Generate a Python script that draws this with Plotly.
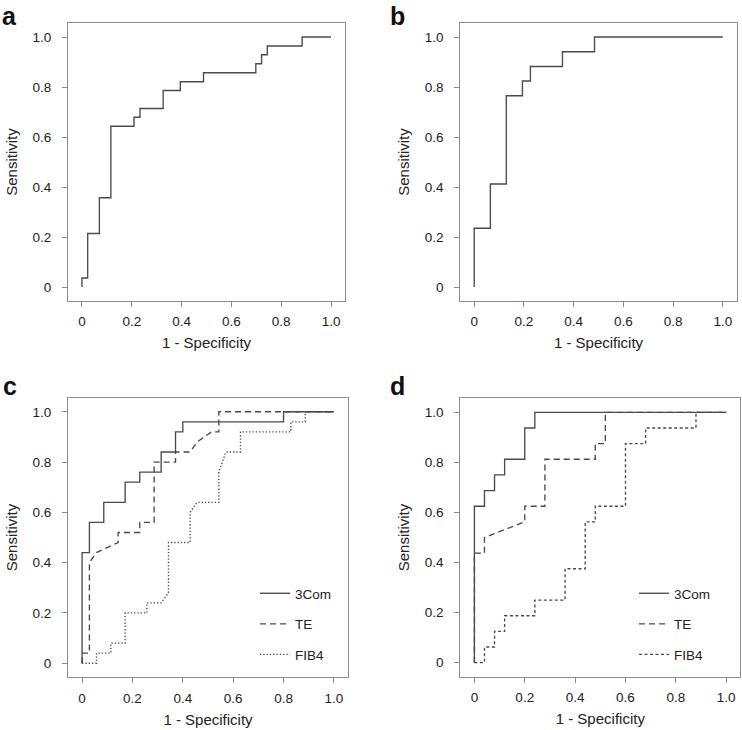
import plotly.graph_objects as go

W, H = 742, 730

# ---------------- data ----------------
# panel a
a_fpr = [0, 0, 0.023, 0.070, 0.116, 0.209, 0.233, 0.326, 0.395, 0.488, 0.698, 0.721, 0.744, 0.884, 1.0]
a_tpr = [0, 0.036, 0.214, 0.357, 0.643, 0.679, 0.714, 0.786, 0.821, 0.857, 0.893, 0.929, 0.964, 1.0, 1.0]
# panel b
b_fpr = [0, 0, 0.065, 0.129, 0.194, 0.226, 0.355, 0.484, 1.0]
b_tpr = [0, 0.235, 0.412, 0.765, 0.824, 0.882, 0.941, 1.0, 1.0]
# panel c
c_3com_fpr = [0, 0, 0.029, 0.086, 0.171, 0.229, 0.314, 0.371, 0.400, 0.800, 1.0]
c_3com_tpr = [0, 0.44, 0.56, 0.64, 0.72, 0.76, 0.84, 0.92, 0.96, 1.0, 1.0]
c_te_fpr = [0, 0, 0.029, 0.029, 0.057, 0.143, 0.143, 0.229, 0.229, 0.286, 0.286, 0.371, 0.371,
            0.429, 0.457, 0.514, 0.543, 0.543, 1.0]
c_te_tpr = [0, 0.04, 0.04, 0.40, 0.44, 0.48, 0.52, 0.52, 0.56, 0.56, 0.80, 0.80, 0.84,
            0.84, 0.88, 0.92, 0.92, 1.0, 1.0]
c_fib4_fpr = [0, 0.057, 0.057, 0.114, 0.114, 0.171, 0.171, 0.257, 0.257, 0.314, 0.343, 0.343,
              0.429, 0.429, 0.457, 0.543, 0.543, 0.571, 0.629, 0.629, 0.829, 0.829, 0.886, 0.886, 1.0]
c_fib4_tpr = [0, 0, 0.04, 0.04, 0.08, 0.08, 0.20, 0.20, 0.24, 0.24, 0.28, 0.48,
              0.48, 0.60, 0.64, 0.64, 0.76, 0.84, 0.84, 0.92, 0.92, 0.96, 0.96, 1.0, 1.0]
# panel d
d_3com_fpr = [0, 0, 0.04, 0.08, 0.12, 0.20, 0.24, 1.0]
d_3com_tpr = [0, 0.625, 0.6875, 0.75, 0.8125, 0.9375, 1.0, 1.0]
d_te_fpr = [0, 0, 0.04, 0.04, 0.20, 0.20, 0.28, 0.28, 0.48, 0.48, 0.52, 0.52, 1.0]
d_te_tpr = [0, 0.4375, 0.4375, 0.5, 0.5625, 0.625, 0.625, 0.8125, 0.8125, 0.875, 0.875, 1.0, 1.0]
d_fib4_fpr = [0, 0.04, 0.08, 0.12, 0.24, 0.36, 0.44, 0.48, 0.60, 0.68, 0.88, 1.0]
d_fib4_tpr = [0, 0.0625, 0.125, 0.1875, 0.25, 0.375, 0.5625, 0.625, 0.875, 0.9375, 1.0, 1.0]

tick_vals = [0, 0.2, 0.4, 0.6, 0.8, 1.0]
tick_text = ["0", "0.2", "0.4", "0.6", "0.8", "1.0"]
series_names = ["3Com", "TE", "FIB4"]
panel_letters = ["a", "b", "c", "d"]

# ---------------- styling / layout ----------------
FONT = "Liberation Sans, Arial, sans-serif"
LINE_C = "#4a4a4a"
BOX_C = "#8a8a8a"
TXT_C = "#222222"
LW = 1.35


def px_x(p):
    return p / W


def px_y(p):
    return 1 - p / H


# plot-box pixel extents: (left, right, top, bottom)
boxes = [(68, 345, 23, 301), (460.3, 736.7, 23, 301),
         (68, 348, 397.7, 677.3), (460.3, 740.3, 398.3, 676.7)]
RNG = [-0.056, 1.056]

fig = go.Figure()

# panel a
fig.add_trace(go.Scatter(x=a_fpr, y=a_tpr, mode="lines", line=dict(color=LINE_C, width=LW, shape="hv"),
                         xaxis="x", yaxis="y", showlegend=False, hoverinfo="skip"))
# panel b
fig.add_trace(go.Scatter(x=b_fpr, y=b_tpr, mode="lines", line=dict(color=LINE_C, width=LW, shape="hv"),
                         xaxis="x2", yaxis="y2", showlegend=False, hoverinfo="skip"))
# panel c
fig.add_trace(go.Scatter(x=c_3com_fpr, y=c_3com_tpr, mode="lines", name=series_names[0],
                         line=dict(color=LINE_C, width=LW, shape="hv"),
                         xaxis="x3", yaxis="y3", legend="legend", legendgroup="c1"))
fig.add_trace(go.Scatter(x=c_te_fpr, y=c_te_tpr, mode="lines", name=series_names[1],
                         line=dict(color=LINE_C, width=LW, dash="6px,4px"),
                         xaxis="x3", yaxis="y3", legend="legend", legendgroup="c2"))
fig.add_trace(go.Scatter(x=c_fib4_fpr, y=c_fib4_tpr, mode="lines", name=series_names[2],
                         line=dict(color=LINE_C, width=LW, dash="1.3px,2px"),
                         xaxis="x3", yaxis="y3", legend="legend", legendgroup="c3"))
# panel d
fig.add_trace(go.Scatter(x=d_3com_fpr, y=d_3com_tpr, mode="lines", name=series_names[0],
                         line=dict(color=LINE_C, width=LW, shape="hv"),
                         xaxis="x4", yaxis="y4", legend="legend2", legendgroup="d1"))
fig.add_trace(go.Scatter(x=d_te_fpr, y=d_te_tpr, mode="lines", name=series_names[1],
                         line=dict(color=LINE_C, width=LW, dash="6px,4px"),
                         xaxis="x4", yaxis="y4", legend="legend2", legendgroup="d2"))
fig.add_trace(go.Scatter(x=d_fib4_fpr, y=d_fib4_tpr, mode="lines", name=series_names[2],
                         line=dict(color=LINE_C, width=LW, dash="3px,2.5px", shape="hv"),
                         xaxis="x4", yaxis="y4", legend="legend2", legendgroup="d3"))

layout = dict(
    width=W, height=H, margin=dict(l=0, r=0, t=0, b=0),
    paper_bgcolor="white", plot_bgcolor="white",
    font=dict(family=FONT, size=13, color=TXT_C),
)

for i, (l, r, t, b) in enumerate(boxes):
    sfx = "" if i == 0 else str(i + 1)
    common = dict(range=RNG, showline=True, mirror=True, linecolor=BOX_C, linewidth=1,
                  ticks="outside", ticklen=5, tickwidth=1, tickcolor=BOX_C,
                  tickvals=tick_vals, ticktext=tick_text, showgrid=False, zeroline=False,
                  tickfont=dict(family=FONT, size=13.5, color=TXT_C), fixedrange=True)
    layout["xaxis" + sfx] = dict(common, domain=[px_x(l), px_x(r)], anchor="y" + sfx,
                                 ticklabelstandoff=3,
                                 title=dict(text="1 - Specificity", standoff=9,
                                            font=dict(family=FONT, size=15, color=TXT_C)))
    layout["yaxis" + sfx] = dict(common, domain=[px_y(b), px_y(t)], anchor="x" + sfx,
                                 ticklabelstandoff=8,
                                 title=dict(text="Sensitivity", standoff=11,
                                            font=dict(family=FONT, size=15, color=TXT_C)))

leg_common = dict(bgcolor="rgba(0,0,0,0)", borderwidth=0, tracegroupgap=10,
                  font=dict(family=FONT, size=13.5, color=TXT_C), itemwidth=30,
                  xanchor="left", yanchor="top", itemclick=False, itemdoubleclick=False)
layout["legend"] = dict(leg_common, x=px_x(255), y=px_y(578))
layout["legend2"] = dict(leg_common, x=px_x(634), y=px_y(578))

letter_pos = [(0, 0), (388, 0), (1, 370), (388, 370)]
layout["annotations"] = [
    dict(text="<b>%s</b>" % txt, x=px_x(xp), y=px_y(yp), xref="paper", yref="paper",
         xanchor="left", yanchor="top", showarrow=False,
         font=dict(family=FONT, size=25, color="#111111"))
    for txt, (xp, yp) in zip(panel_letters, letter_pos)
]

fig.update_layout(layout)
fig.write_html("out.html", config={"displayModeBar": False},
               post_script="document.body.style.margin='0';document.body.style.overflow='hidden';")
